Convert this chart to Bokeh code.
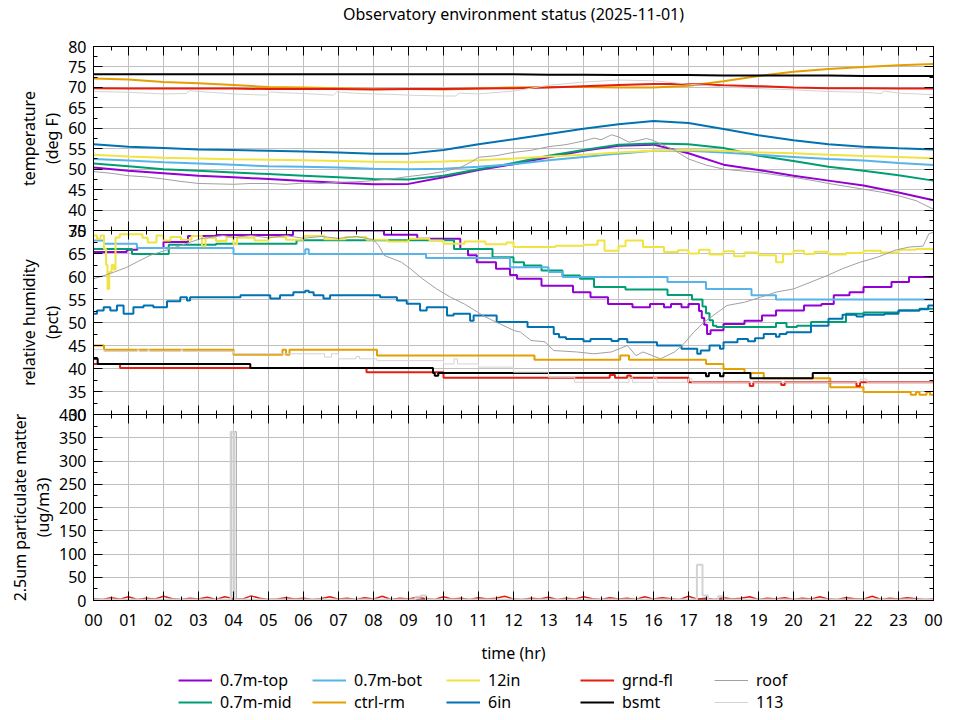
from bokeh.plotting import figure
from bokeh.layouts import column
from bokeh.models import Range1d, FixedTicker, LinearAxis, Legend, LegendItem
from bokeh.embed import file_html
from bokeh.resources import INLINE

FONT = "Noto Sans"
FS = "16px"

# ---------------- data ----------------
TITLE = "Observatory environment status (2025-11-01)"
HOUR_TICKS = list(range(25))
HOUR_LABELS = ["00", "01", "02", "03", "04", "05", "06", "07", "08", "09", "10", "11",
               "12", "13", "14", "15", "16", "17", "18", "19", "20", "21", "22", "23", "00"]
HALF_HOURS = [h + 0.5 for h in range(24)]

SERIES = ["0.7m-top", "0.7m-mid", "0.7m-bot", "ctrl-rm", "12in", "6in", "grnd-fl", "bsmt", "roof", "113"]
COLORS = ["#9400d3", "#009e73", "#56b4e9", "#e69f00", "#f0e442", "#0072b2", "#e51e10", "#000000", "#a0a0a0", "#d3d3d3"]
WIDTHS = [2, 2, 2, 2, 2, 2, 2, 2, 1, 1]
# legend is filled row by row: first row 0.7m-top, 0.7m-bot, 12in, grnd-fl, roof
LEGEND_ORDER = [0, 2, 4, 6, 8, 1, 3, 5, 7, 9]

# temperature (deg F), hourly
T_HOURS = list(range(25))
T_TOP = [50.4, 49.6, 49.0, 48.4, 48.0, 47.6, 47.1, 46.7, 46.3, 46.4, 48.0, 49.8, 51.2, 52.9, 54.5, 55.7, 56.0, 53.9, 51.1, 49.8, 48.4, 47.2, 46.0, 44.3, 42.4]
T_MID = [51.4, 50.7, 50.0, 49.6, 49.2, 48.8, 48.4, 48.0, 47.6, 47.5, 48.4, 50.0, 51.5, 53.3, 54.7, 56.0, 56.3, 56.1, 55.2, 53.3, 52.0, 50.6, 49.6, 48.5, 47.2]
T_BOT = [52.5, 52.1, 51.7, 51.4, 51.1, 50.7, 50.6, 50.4, 50.1, 50.0, 50.1, 50.6, 51.2, 52.2, 53.0, 53.8, 54.5, 54.5, 54.1, 53.5, 53.0, 52.5, 52.1, 51.5, 51.0]
T_CTRL = [72.2, 71.9, 71.3, 71.0, 70.6, 70.1, 70.0, 69.8, 69.6, 69.6, 69.5, 69.7, 70.0, 70.1, 70.1, 70.0, 70.0, 70.4, 71.5, 72.8, 73.8, 74.5, 75.0, 75.4, 75.7]
T_12IN = [53.5, 53.1, 52.8, 52.6, 52.4, 52.3, 52.2, 52.0, 51.8, 51.7, 51.9, 52.2, 52.6, 53.1, 53.5, 54.1, 54.5, 54.7, 54.5, 54.1, 53.9, 53.5, 53.2, 53.0, 52.7]
T_6IN = [56.1, 55.5, 55.2, 54.8, 54.7, 54.5, 54.3, 54.1, 53.8, 53.8, 54.7, 56.1, 57.3, 58.6, 59.9, 61.0, 61.8, 61.3, 59.8, 58.3, 57.1, 56.1, 55.5, 55.1, 54.8]
T_GRND = [69.8, 69.7, 69.7, 69.7, 69.7, 69.6, 69.6, 69.6, 69.5, 69.6, 69.6, 69.7, 69.8, 70.0, 70.3, 70.6, 70.8, 70.8, 70.5, 70.3, 70.0, 69.8, 69.8, 69.7, 69.7]
T_BSMT = [73.2, 73.2, 73.2, 73.2, 73.2, 73.2, 73.2, 73.2, 73.2, 73.2, 73.2, 73.2, 73.2, 73.1, 73.1, 73.0, 73.0, 73.0, 72.9, 72.9, 72.9, 72.9, 72.8, 72.8, 72.8]
T_ROOF_T = [0, 0.5, 1, 1.5, 2, 2.5, 3, 3.5, 4, 4.5, 5, 5.5, 6, 6.5, 7, 7.5, 8, 8.5, 9, 9.5, 10,
            10.5, 10.8, 11, 11.5, 12, 12.5, 13, 13.5, 14, 14.3, 14.5, 14.8, 15, 15.3, 15.5, 15.8, 16, 16.3, 16.6, 17,
            17.5, 18, 18.5, 19, 19.5, 20, 20.5, 21, 21.5, 22, 22.5, 23, 23.5, 24]
T_ROOF = [49.4, 49.0, 48.4, 48.1, 47.6, 47.0, 46.5, 46.4, 46.3, 46.5, 46.5, 46.3, 46.6, 46.5, 46.8, 46.9, 47.2, 47.6, 48.2, 48.7, 49.4,
          50.5, 51.8, 52.9, 53.3, 54.1, 54.6, 55.5, 56.0, 56.9, 57.6, 57.2, 58.4, 57.9, 56.6, 56.9, 57.5, 57.0, 55.8, 54.6, 52.5,
          51.0, 50.0, 49.6, 49.2, 48.6, 48.0, 47.3, 46.5, 45.8, 45.1, 44.4, 43.5, 42.3, 40.2]
T_113_T = [0, 1, 2, 2.65, 2.75, 3, 4, 4.95, 5.05, 5.4, 6, 6.85, 6.95, 7.4, 8, 8.5, 9, 10, 10.35, 10.45,
           11, 12, 13, 14, 15, 16, 17, 18, 19, 20, 21, 22, 22.5, 22.6, 23, 24]
T_113 = [69.0, 68.8, 68.4, 68.5, 69.2, 69.0, 68.4, 68.1, 68.9, 68.7, 68.5, 68.1, 68.9, 68.6, 68.4, 68.3, 68.1, 67.9, 67.9, 68.6,
         68.4, 69.1, 70.5, 71.3, 71.8, 71.6, 70.8, 70.1, 69.7, 69.4, 69.0, 68.8, 68.5, 69.1, 68.6, 68.2]

# relative humidity (pct), change points of step records
H_TOP_T = [0, 0.95, 1.25, 2.0, 2.7, 3.5, 5.7, 8.3, 9.25, 10.48, 10.7, 10.95, 11.5, 11.9, 12.1, 12.8, 13.7, 14.2, 14.7, 15.4,
           15.9, 16.3, 16.5, 16.8, 17.0, 17.3, 17.38, 17.45, 17.53, 17.63, 18.0, 18.6, 19.1, 19.5, 20.3, 20.8, 21.15, 21.6, 22.0, 22.8,
           23.3, 24]
H_TOP = [65.3, 65.8, 66.2, 67.5, 68.8, 69.0, 70.0, 69.1, 68.2, 66.0, 64.6, 63.1, 61.7, 60.3, 59.5, 58.0, 56.6, 55.5, 54.0, 53.3,
         54.0, 53.3, 54.0, 53.3, 54.0, 52.5, 51.0, 49.5, 47.5, 48.3, 49.7, 50.4, 51.5, 52.6, 53.7, 54.0, 55.9, 56.6, 57.7, 58.8,
         59.9, 59.9]
H_MID_T = [0, 1.1, 2.15, 3.5, 5.8, 10.3, 11.4, 12.0, 12.3, 12.8, 13.4, 13.9, 14.3, 15.2, 16.4, 17.1, 17.4, 17.5, 17.6, 17.7,
           17.8, 19.5, 19.8, 20.1, 20.5, 21.5, 22.0, 23.0, 23.6, 24]
H_MID = [66.0, 64.9, 66.9, 67.1, 67.9, 66.0, 64.2, 63.1, 62.4, 61.3, 60.2, 59.5, 57.7, 57.2, 56.0, 55.0, 53.5, 52.0, 50.5, 49.3,
         49.0, 49.9, 49.0, 49.3, 50.1, 51.9, 52.2, 52.6, 53.0, 53.0]
H_BOT_T = [0, 0.3, 1.24, 4.0, 6.05, 6.15, 9.5, 11.9, 13.0, 13.4, 16.4, 17.5, 18.8, 19.5, 24]
H_BOT = [67.8, 67.1, 66.2, 64.9, 65.9, 64.9, 64.0, 62.0, 61.0, 59.9, 58.8, 57.3, 55.9, 55.0, 55.0]
H_CTRL_T = [0, 0.3, 4.0, 5.4, 5.5, 5.6, 8.1, 12.6, 15.05, 15.3, 17.5, 18.0, 18.6, 19.15, 21.05, 22.0, 23.35, 23.5, 23.6, 23.8, 23.9, 24]
H_CTRL = [45.0, 44.1, 43.0, 44.1, 43.0, 44.1, 42.8, 41.9, 42.8, 41.9, 41.0, 39.9, 39.0, 37.9, 35.9, 34.9, 34.3, 34.9, 34.3, 34.9, 34.3, 34.3]
H_12IN_T = [0, 0.10, 0.20, 0.30, 0.36, 0.40, 0.45, 0.52, 0.58, 0.63,
            0.75, 1.40, 1.55, 1.80, 2.00, 2.20, 2.50, 2.80, 3.10, 3.20,
            3.50, 3.80, 4.00, 4.10, 4.60, 5.00, 5.50, 6.00, 6.60, 7.20,
            7.80, 8.40, 9.00, 9.60, 10.00, 10.60, 11.20, 11.80, 12.00, 13.20,
            14.00, 14.40, 14.60, 15.00, 15.20, 15.70, 16.30, 16.70, 17.00, 17.30,
            17.60, 18.00, 18.30, 18.60, 19.00, 19.50, 19.70, 20.00, 20.30, 20.60,
            21.00, 21.50, 22.00, 22.50, 23.00, 23.50, 24.00]
H_12IN = [68.9, 68.2, 68.9, 66.0, 62.5, 57.3, 61.0, 62.5, 61.5, 68.5,
          69.2, 68.4, 67.4, 68.9, 67.8, 68.6, 68.0, 68.8, 66.6, 68.4,
          67.7, 68.6, 67.0, 68.4, 67.8, 68.6, 68.0, 68.8, 68.1, 68.6,
          68.0, 67.6, 68.2, 67.8, 67.1, 67.6, 67.0, 67.4, 66.4, 66.7,
          66.9, 67.8, 65.6, 66.6, 67.8, 66.4, 65.3, 65.7, 65.0, 65.8,
          64.8, 65.5, 64.4, 65.2, 64.6, 63.1, 64.9, 65.6, 64.9, 65.4,
          64.8, 65.1, 65.6, 65.2, 65.8, 66.0, 66.0]
H_6IN_T = [0, 0.1, 0.29, 0.48, 0.67, 0.86, 1.14, 1.43, 1.71, 2.1,
           2.48, 2.67, 2.76, 4.2, 5.05, 5.33, 5.71, 6.05, 6.15, 6.29,
           6.57, 6.76, 8.19, 8.67, 8.95, 9.33, 9.52, 10.1, 10.29, 10.76,
           10.86, 11.52, 12.4, 13.15, 13.3, 13.5, 14.0, 14.2, 14.8, 15.0,
           15.25, 16.1, 16.8, 17.25, 17.35, 17.6, 17.9, 18.0, 18.4, 18.7,
           18.9, 19.15, 19.5, 19.6, 19.8, 20.5, 21.0, 21.4, 21.8, 22.0,
           22.6, 23.0, 23.6, 23.85, 24]
H_6IN = [51.9, 52.6, 53.3, 52.6, 53.7, 51.9, 53.3, 53.7, 53.3, 54.6,
         55.5, 54.8, 55.5, 55.9, 55.2, 55.9, 56.6, 56.9, 56.6, 55.9,
         55.2, 55.9, 55.5, 54.8, 54.1, 52.6, 53.3, 51.5, 51.9, 50.4,
         51.5, 50.1, 49.0, 47.5, 46.8, 46.4, 45.9, 46.4, 46.0, 46.4,
         45.7, 45.0, 44.3, 43.2, 43.9, 45.0, 44.3, 45.7, 46.4, 45.9,
         46.6, 47.5, 46.9, 47.5, 47.9, 49.3, 50.8, 51.7, 51.3, 51.7,
         51.9, 52.6, 52.9, 53.7, 53.7]
H_GRND_T = [0, 0.76, 7.8, 10.0, 14.75, 14.9, 15.25, 15.35, 17.0, 18.75, 18.85, 19.65, 19.75, 21.8, 21.9, 24]
H_GRND = [41.0, 40.1, 39.2, 38.0, 38.6, 38.0, 38.5, 38.0, 37.0, 36.2, 37.0, 36.4, 37.0, 36.2, 37.0, 37.0]
H_BSMT_T = [0, 0.12, 4.48, 9.7, 9.75, 9.85, 17.5, 17.58, 17.9, 18.0, 18.77, 20.55, 24]
H_BSMT = [42.1, 41.0, 40.1, 39.0, 38.4, 39.0, 38.3, 39.0, 38.3, 39.0, 37.9, 39.0, 39.0]
H_ROOF_T = [0, 0.3, 0.57, 0.95, 1.33, 1.62, 1.9, 2.19, 2.48, 3.05,
            3.7, 4.0, 4.5, 5.0, 5.5, 6.0, 6.5, 7.0, 7.5, 8.0,
            8.15, 8.3, 8.8, 9.05, 9.4, 9.8, 10.2, 10.6, 10.9, 11.2,
            11.5, 12.0, 12.2, 12.5, 12.9, 13.15, 13.8, 14.3, 14.8, 15.25,
            15.5, 15.7, 16.2, 16.6, 16.87, 17.15, 17.45, 17.7, 18.1, 18.6,
            19.06, 19.5, 20.0, 20.5, 20.96, 21.4, 21.9, 22.4, 22.9, 23.3,
            23.7, 23.87, 24]
H_ROOF = [59.5, 60.2, 60.9, 62.0, 63.5, 64.6, 65.3, 66.0, 66.7, 68.2,
          68.9, 68.5, 68.9, 68.4, 68.9, 68.3, 68.7, 68.3, 68.7, 68.0,
          66.7, 64.6, 63.1, 61.7, 59.5, 57.3, 55.5, 54.0, 52.6, 51.2,
          50.1, 48.3, 47.9, 46.1, 45.8, 43.9, 43.6, 43.2, 43.6, 45.0,
          42.8, 43.6, 42.1, 43.6, 45.4, 47.9, 50.1, 51.5, 53.7, 54.4,
          55.5, 56.6, 57.3, 58.8, 60.2, 61.7, 63.1, 64.2, 65.7, 66.4,
          66.6, 69.3, 69.6]
H_113_T = [0, 0.3, 1.25, 1.3, 1.55, 1.6, 2.5, 2.55, 4.0, 6.6,
           6.8, 7.0, 7.5, 7.6, 8.1, 10.0, 10.3, 10.4, 11.0, 12.0,
           13.0, 13.75, 15.3, 15.4, 16.0, 16.1, 17.0, 17.1, 21.9, 22.1, 24]
H_113 = [44.1, 43.7, 44.1, 43.7, 44.1, 43.7, 44.1, 43.7, 43.2, 42.5,
         43.2, 42.1, 42.6, 42.1, 41.7, 41.0, 42.1, 41.0, 40.3, 39.2,
         38.1, 37.0, 38.0, 37.0, 38.0, 37.0, 37.8, 37.0, 37.7, 37.0, 37.0]

# 2.5um particulate matter (ug/m3)
PM_GRND = [4, 2, 6, 3, 8, 2, 5, 3, 9, 4, 2, 5, 3, 7, 2, 8, 4, 3, 10, 5,
           2, 3, 6, 3, 5, 2, 4, 8, 3, 5, 2, 6, 3, 9, 2, 5, 3, 7, 4, 2,
           8, 3, 5, 2, 6, 3, 5, 9, 3, 2, 5, 3, 7, 2, 5, 3, 8, 4, 2, 6,
           3, 5, 2, 8, 3, 6, 4, 2, 9, 3, 5, 2, 6, 3, 5, 8, 2, 5, 3, 6,
           2, 5, 3, 8, 3, 2, 6, 4, 3, 9, 2, 5, 3, 6, 4, 2, 3]
PM_GRND_T = [24.0 * i / (len(PM_GRND) - 1) for i in range(len(PM_GRND))]
PM_113_T = [0, 3.92, 4.02, 9.2, 9.35, 9.5, 17.24, 17.4, 17.55, 17.85, 18.0, 24]
PM_113 = [2, 363, 2, 8, 11, 2, 77, 11, 2, 9, 2, 2]
PM_ROOF_T = [0, 3.95, 4.08, 24]
PM_ROOF = [1, 363, 1, 1]
PM_BSMT_T = [0, 24]
PM_BSMT = [0, 0]

# ---------------- plotting ----------------
xr = Range1d(0, 24)


def tick_only_axis(p, side, positions, length):
    ax = LinearAxis(ticker=FixedTicker(ticks=[], minor_ticks=positions),
                    major_tick_in=0, major_tick_out=0, minor_tick_in=length, minor_tick_out=0,
                    major_label_standoff=0, axis_line_color="black",
                    minor_tick_line_color="black", major_tick_line_color="black")
    p.add_layout(ax, side)
    return ax


def label_axis(ax, ticker):
    ax.ticker = ticker
    ax.major_tick_in = 9
    ax.major_tick_out = 0
    ax.minor_tick_in = 4
    ax.minor_tick_out = 0
    ax.axis_line_color = "black"
    ax.major_tick_line_color = "black"
    ax.minor_tick_line_color = "black"
    ax.major_label_text_font = FONT
    ax.major_label_text_font_size = FS
    ax.major_label_text_color = "black"
    ax.axis_label_text_font = FONT
    ax.axis_label_text_font_size = FS
    ax.axis_label_text_font_style = "normal"
    ax.axis_label_text_color = "black"
    ax.axis_label_text_line_height = 1.05


def make_panel(y0, y1, ystep, ylabel, frame_h, top_border, bottom_border, x_labels):
    ymajor = list(range(y0, y1 + 1, ystep))
    yminor = [v + ystep / 2 for v in range(y0, y1, ystep)]
    p = figure(frame_width=840, frame_height=frame_h, x_range=xr, y_range=Range1d(y0, y1),
               output_backend="svg", toolbar_location=None, tools="",
               min_border_left=93, min_border_right=27,
               min_border_top=top_border, min_border_bottom=bottom_border,
               border_fill_color=None, background_fill_color=None,
               outline_line_color="black", outline_line_width=1)
    bottom = p.below[0]
    left = p.left[0]
    label_axis(left, FixedTicker(ticks=ymajor, minor_ticks=yminor))
    left.axis_label = ylabel
    left.major_label_standoff = 7
    left.axis_label_standoff = 2
    if x_labels:
        label_axis(bottom, FixedTicker(ticks=HOUR_TICKS, minor_ticks=HALF_HOURS))
        bottom.major_label_overrides = {t: lab for t, lab in zip(HOUR_TICKS, HOUR_LABELS)}
    else:
        bottom.ticker = FixedTicker(ticks=[], minor_ticks=HOUR_TICKS)
        bottom.major_tick_in = 0
        bottom.major_tick_out = 0
        bottom.minor_tick_in = 9
        bottom.minor_tick_out = 0
        bottom.major_label_standoff = 0
        bottom.axis_line_color = "black"
        bottom.minor_tick_line_color = "black"
        tick_only_axis(p, "below", HALF_HOURS, 4)
    tick_only_axis(p, "above", HOUR_TICKS, 9)
    tick_only_axis(p, "above", HALF_HOURS, 4)
    tick_only_axis(p, "right", ymajor, 9)
    tick_only_axis(p, "right", yminor, 4)
    p.xgrid[0].ticker = FixedTicker(ticks=HOUR_TICKS)
    p.ygrid[0].ticker = FixedTicker(ticks=ymajor)
    for g in (p.xgrid[0], p.ygrid[0]):
        g.grid_line_color = "#c0c0c0"
        g.grid_line_width = 1
    return p, bottom


# title strip (its frame is a thin empty band under the title)
p0 = figure(width=960, height=30, x_range=Range1d(0, 1), y_range=Range1d(0, 1),
            output_backend="svg", toolbar_location=None, tools="",
            x_axis_location=None, y_axis_location=None,
            min_border_left=93, min_border_right=27, min_border_top=0, min_border_bottom=0,
            border_fill_color=None, background_fill_color=None, outline_line_color=None)
p0.xgrid.visible = False
p0.ygrid.visible = False
p0.title.text = TITLE
p0.title.align = "center"
p0.title.text_font = FONT
p0.title.text_font_size = FS
p0.title.text_font_style = "normal"
p0.title.text_color = "black"
p0.title.standoff = 0

p1, _ = make_panel(35, 80, 5, "temperature\n(deg F)", 184, 46, 12, False)
p1.styles = {"margin-top": "-30px"}

p2, _ = make_panel(30, 70, 5, "relative humidity\n(pct)", 184, 12, 12, False)
p2.styles = {"margin-top": "-24px"}

p3, bx = make_panel(0, 400, 50, "2.5um particulate matter\n(ug/m3)", 186, 12, 68, True)
p3.styles = {"margin-top": "-24px"}
bx.major_label_standoff = 13
bx.axis_label = "time (hr)"
bx.axis_label_standoff = 13

temps = [(T_HOURS, T_TOP), (T_HOURS, T_MID), (T_HOURS, T_BOT), (T_HOURS, T_CTRL), (T_HOURS, T_12IN),
         (T_HOURS, T_6IN), (T_HOURS, T_GRND), (T_HOURS, T_BSMT), (T_ROOF_T, T_ROOF), (T_113_T, T_113)]
for (xs, ys), c, w in zip(temps, COLORS, WIDTHS):
    p1.line(xs, ys, line_color=c, line_width=w)

hums = [(H_TOP_T, H_TOP), (H_MID_T, H_MID), (H_BOT_T, H_BOT), (H_CTRL_T, H_CTRL), (H_12IN_T, H_12IN),
        (H_6IN_T, H_6IN), (H_GRND_T, H_GRND), (H_BSMT_T, H_BSMT), (H_ROOF_T, H_ROOF), (H_113_T, H_113)]
for i, ((xs, ys), c, w) in enumerate(zip(hums, COLORS, WIDTHS)):
    if SERIES[i] == "roof":
        p2.line(xs, ys, line_color=c, line_width=w)
    else:
        p2.step(xs, ys, line_color=c, line_width=w, mode="after")

p3.line(PM_GRND_T, PM_GRND, line_color=COLORS[6], line_width=1.5)
p3.step(PM_BSMT_T, PM_BSMT, line_color=COLORS[7], line_width=2, mode="after")
p3.step(PM_ROOF_T, PM_ROOF, line_color=COLORS[8], line_width=1, mode="after")
p3.step(PM_113_T, PM_113, line_color=COLORS[9], line_width=2, mode="after")

# key below the panels: a strip whose (empty) view range holds the legend only
p4 = figure(width=960, height=50, x_range=Range1d(0, 24), y_range=Range1d(0, 1),
            output_backend="svg", toolbar_location=None, tools="",
            x_axis_location=None, y_axis_location=None,
            min_border_left=93, min_border_right=27, min_border_top=0, min_border_bottom=0,
            border_fill_color=None, background_fill_color=None, outline_line_color=None)
p4.xgrid.visible = False
p4.ygrid.visible = False
key_renderers = []
for (xs, ys), c, w in zip(temps, COLORS, WIDTHS):
    key_renderers.append(p4.line(xs, ys, line_color=c, line_width=w))
items = [LegendItem(label=SERIES[i], renderers=[key_renderers[i]]) for i in LEGEND_ORDER]
legend = Legend(items=items, orientation="horizontal", ncols=5, location="top_center",
                glyph_width=34, glyph_height=20, label_width=92, label_height=20,
                label_standoff=8, spacing=0, padding=0, margin=1,
                border_line_color=None, background_fill_alpha=0,
                label_text_font=FONT, label_text_font_size=FS, label_text_color="black")
p4.add_layout(legend)

layout = column(p0, p1, p2, p3, p4)
open("out.html", "w").write(file_html(layout, INLINE))
